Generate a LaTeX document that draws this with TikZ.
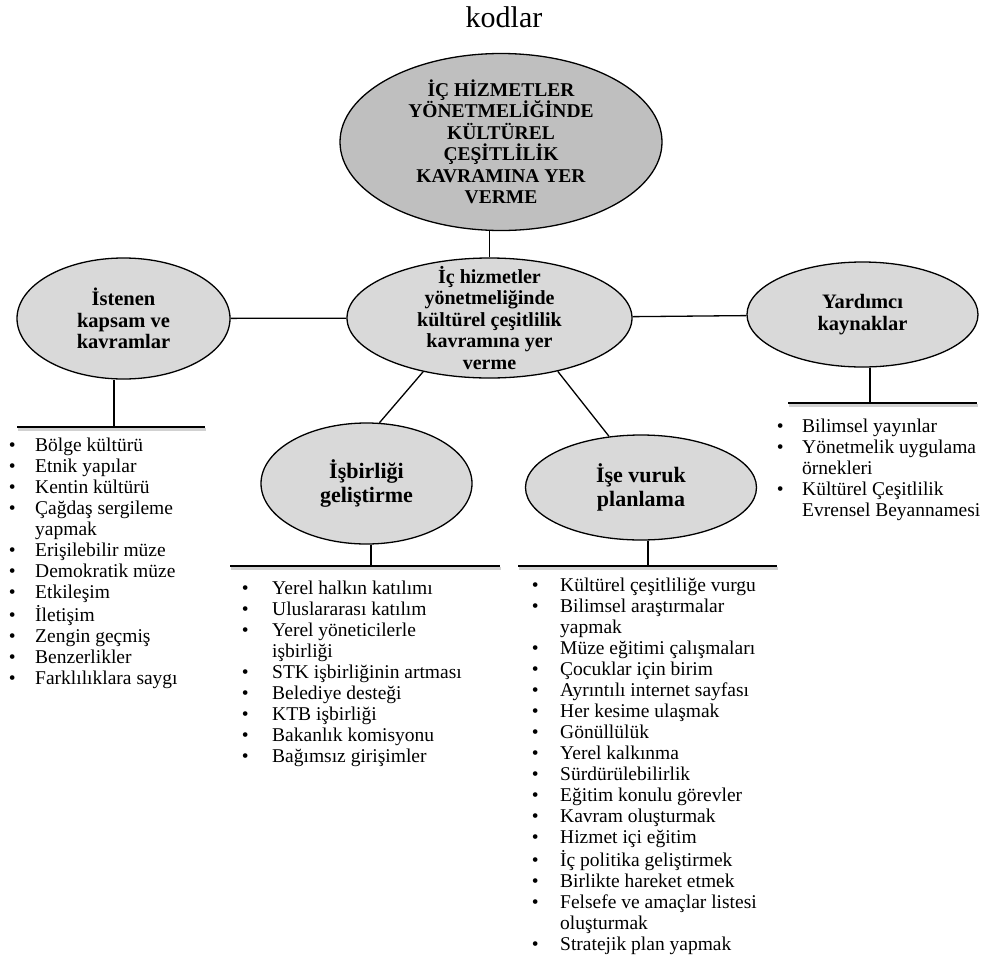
\documentclass[tikz,border=0pt]{standalone}
\usepackage{fontspec}
\setmainfont{Liberation Serif}
\usetikzlibrary{shapes.geometric}

\definecolor{darkfill}{RGB}{191,191,191}
\definecolor{lightfill}{RGB}{217,217,217}

% bulleted column: #1 = gap between bullet and text, #2 = rows
\newcommand\bulletrows[2]{%
  \begin{tabular}{@{}c@{\hspace{#1}}l@{}}#2\end{tabular}}

\tikzset{
  oval/.style={ellipse, draw=black, line width=1.3pt, fill=lightfill,
    inner sep=-20pt, align=center},
  conn/.style={line width=1.3pt, draw=black},
  shelf/.style={line width=1.4pt, draw=black},
  shelfshadow/.style={line width=2.6pt, draw=black!18},
  listtext/.style={anchor=north west, inner sep=0pt, align=left,
    font=\fontsize{19.5}{21}\selectfont},
}

\begin{document}
\begin{tikzpicture}[x=1pt, y=-1pt]
\useasboundingbox (0,0) rectangle (985,964);

% heading
\node[inner sep=0pt, font=\fontsize{30}{34}\selectfont] (title) at (504,17) {kodlar};

% concept ovals
\node[oval, fill=darkfill, minimum width=322pt, minimum height=177pt,
      font=\bfseries\fontsize{19.5}{21.5}\selectfont] (topE) at (501,142)
  {İÇ HİZMETLER\\YÖNETMELİĞİNDE\\KÜLTÜREL\\ÇEŞİTLİLİK\\KAVRAMINA YER\\VERME};
\node[oval, minimum width=285pt, minimum height=120pt,
      font=\bfseries\fontsize{20}{21.5}\selectfont] (midE) at (489.5,318)
  {İç hizmetler\\yönetmeliğinde\\kültürel çeşitlilik\\kavramına yer\\verme};
\node[oval, minimum width=213pt, minimum height=121pt,
      font=\bfseries\fontsize{20.5}{21.5}\selectfont] (leftE) at (123.5,318.5)
  {İstenen\\kapsam ve\\kavramlar};
\node[oval, minimum width=231pt, minimum height=105pt,
      font=\bfseries\fontsize{20.5}{22}\selectfont] (rightE) at (862.5,314.5)
  {Yardımcı\\kaynaklar};
\node[oval, minimum width=211pt, minimum height=121pt,
      font=\bfseries\fontsize{22}{23.5}\selectfont] (blE) at (366.5,483.5)
  {İşbirliği\\geliştirme};
\node[oval, minimum width=231pt, minimum height=105pt,
      font=\bfseries\fontsize{22}{24}\selectfont] (brE) at (641,487.5)
  {İşe vuruk\\planlama};

% links between ovals
\draw[conn] (topE.south -| midE.north) -- (midE.north);
\draw[conn] (leftE) -- (midE);
\draw[conn] (midE) -- (rightE);
\draw[conn] (midE.219) -- (blE.78);
\draw[conn] (midE.322) -- (brE.122);

% shelf lines under each oval
\coordinate (lfoot) at (114,427);   \coordinate (la) at (17,427);  \coordinate (lb) at (205,427);
\coordinate (rfoot) at (870,403);   \coordinate (ra) at (788,403); \coordinate (rb) at (977,403);
\coordinate (bfoot) at (371,566);   \coordinate (ba) at (230,566); \coordinate (bb) at (500,566);
\coordinate (cfoot) at (648,566);   \coordinate (ca) at (518,566); \coordinate (cb) at (777,566);

\foreach \a/\b in {la/lb, ra/rb, ba/bb, ca/cb}{
  \draw[shelfshadow] ([shift={(1,2.5)}]\a) -- ([shift={(1,2.5)}]\b);
  \draw[shelf] (\a) -- (\b);
}
\draw[conn] (leftE.south -| lfoot) -- (lfoot);
\draw[conn] (rightE.south -| rfoot) -- (rfoot);
\draw[conn] (blE.south -| bfoot) -- (bfoot);
\draw[conn] (brE.south -| cfoot) -- (cfoot);

% item lists
\node[listtext] (leftL) at (8.6,437) {\bulletrows{19.6pt}{%
  •& Bölge kültürü\\
  •& Etnik yapılar\\
  •& Kentin kültürü\\
  •& Çağdaş sergileme\\
   & yapmak\\
  •& Erişilebilir müze\\
  •& Demokratik müze\\
  •& Etkileşim\\
  •& İletişim\\
  •& Zengin geçmiş\\
  •& Benzerlikler\\
  •& Farklılıklara saygı}};

\node[listtext] (midL) at (241.6,580) {\bulletrows{23.6pt}{%
  •& Yerel halkın katılımı\\
  •& Uluslararası katılım\\
  •& Yerel yöneticilerle\\
   & işbirliği\\
  •& STK işbirliğinin artması\\
  •& Belediye desteği\\
  •& KTB işbirliği\\
  •& Bakanlık komisyonu\\
  •& Bağımsız girişimler}};

\node[listtext] (planL) at (531.6,577) {\bulletrows{21.6pt}{%
  •& Kültürel çeşitliliğe vurgu\\
  •& Bilimsel araştırmalar\\
   & yapmak\\
  •& Müze eğitimi çalışmaları\\
  •& Çocuklar için birim\\
  •& Ayrıntılı internet sayfası\\
  •& Her kesime ulaşmak\\
  •& Gönüllülük\\
  •& Yerel kalkınma\\
  •& Sürdürülebilirlik\\
  •& Eğitim konulu görevler\\
  •& Kavram oluşturmak\\
  •& Hizmet içi eğitim\\
  •& İç politika geliştirmek\\
  •& Birlikte hareket etmek\\
  •& Felsefe ve amaçlar listesi\\
   & oluşturmak\\
  •& Stratejik plan yapmak}};

\node[listtext] (rightL) at (776.6,418) {\bulletrows{18.6pt}{%
  •& Bilimsel yayınlar\\
  •& Yönetmelik uygulama\\
   & örnekleri\\
  •& Kültürel Çeşitlilik\\
   & Evrensel Beyannamesi}};
\end{tikzpicture}
\end{document}
